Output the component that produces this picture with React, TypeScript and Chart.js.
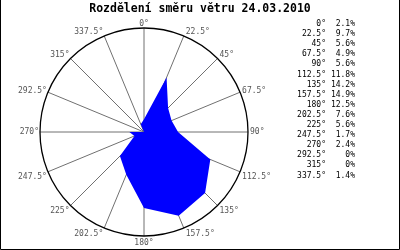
import { useEffect, useRef } from 'react';
import { Chart, registerables } from 'chart.js';

Chart.register(...registerables);

const TITLE = 'Rozdělení směru větru 24.03.2010';
const directions = ['0', '22.5', '45', '67.5', '90', '112.5', '135', '157.5', '180', '202.5', '225', '247.5', '270', '292.5', '315', '337.5'];
const shares = [2.1, 9.7, 5.6, 4.9, 5.6, 11.8, 14.2, 14.9, 12.5, 7.6, 5.6, 1.7, 2.4, 0, 0, 1.4];
const directionLabels = directions.map((d) => d + '°');
const shareLabels = shares.map((v) => v + '%');
const SCALE_MAX = 17.1;

const decor = {
  id: 'decor',
  afterDraw(chart: any) {
    const ctx: CanvasRenderingContext2D = chart.ctx;
    const scale = chart.scales.r;
    ctx.save();
    // outer circle
    ctx.beginPath();
    ctx.strokeStyle = '#000';
    ctx.lineWidth = 1.3;
    ctx.arc(scale.xCenter, scale.yCenter, scale.drawingArea, 0, Math.PI * 2);
    ctx.stroke();

    // direction labels
    ctx.font = '8px "DejaVu Sans Mono"';
    ctx.fillStyle = '#555';
    const n = directionLabels.length;
    for (let i = 0; i < n; i++) {
      const p = scale.getPointPosition(i, scale.drawingArea);
      const ang = (i * 2 * Math.PI) / n;
      const s = Math.sin(ang);
      const c = Math.cos(ang);
      const align: CanvasTextAlign = Math.abs(s) < 0.01 ? 'center' : s > 0 ? 'left' : 'right';
      let dy = 0;
      if (c > 0.1) dy = -4.5 * c;
      else if (c < -0.1) dy = 4 + 2.5 * Math.abs(c);
      const dx = align === 'left' ? 2 : align === 'right' ? -1 : 0;
      ctx.textAlign = align;
      ctx.textBaseline = 'middle';
      ctx.fillText(directionLabels[i], p.x + dx, p.y + dy);
    }

    // legend
    ctx.fillStyle = '#000';
    ctx.textBaseline = 'middle';
    for (let i = 0; i < n; i++) {
      const y = 24 + i * 10.1;
      ctx.textAlign = 'right';
      ctx.fillText(directionLabels[i], 326, y);
      ctx.fillText(shareLabels[i], 355, y);
    }

    // title
    ctx.font = 'bold 11.5px "DejaVu Sans Mono"';
    ctx.textAlign = 'center';
    ctx.fillText(TITLE, 200, 9);

    // frame
    ctx.strokeStyle = '#000';
    ctx.lineWidth = 1;
    ctx.beginPath();
    ctx.moveTo(0.5, 0);
    ctx.lineTo(0.5, 249.5);
    ctx.lineTo(399.5, 249.5);
    ctx.lineTo(399.5, 0);
    ctx.stroke();
    ctx.restore();
  },
};

export default function App() {
  const ref = useRef<HTMLCanvasElement>(null);
  useEffect(() => {
    document.body.style.margin = '0';
    const chart = new Chart(ref.current!, {
      type: 'radar',
      data: {
        labels: directionLabels,
        datasets: [
          {
            data: shares,
            backgroundColor: '#0000ff',
            borderWidth: 0,
            pointRadius: 0,
            fill: true,
          },
        ],
      },
      options: {
        responsive: false,
        animation: false,
        layout: { padding: { left: 40, top: 28, right: 152, bottom: 14 } },
        plugins: { legend: { display: false }, tooltip: { enabled: false }, title: { display: false } },
        scales: {
          r: {
            min: 0,
            max: SCALE_MAX,
            ticks: { display: false },
            grid: { display: false },
            angleLines: { display: true, color: '#707070', lineWidth: 1 },
            pointLabels: { display: false },
          },
        },
      },
      plugins: [decor],
    });
    return () => chart.destroy();
  }, []);
  return <canvas ref={ref} width={400} height={250} style={{ display: 'block', background: '#fff' }} />;
}
